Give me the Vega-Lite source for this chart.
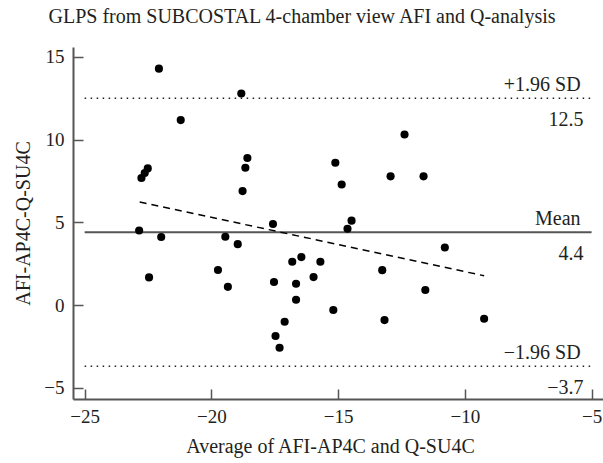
{
  "$schema": "https://vega.github.io/schema/vega-lite/v6.json",
  "autosize": {"type": "none"},
  "padding": {"left": 73, "top": 47, "right": 0, "bottom": 64},
  "width": 530,
  "height": 352,
  "title": {
    "text": "GLPS from SUBCOSTAL 4-chamber view AFI and Q-analysis",
    "font": "Liberation Serif",
    "fontSize": 20,
    "fontWeight": "normal",
    "color": "#231f20",
    "anchor": "middle",
    "dx": -36,
    "offset": 20
  },
  "config": {
    "view": {"stroke": null},
    "axis": {
      "grid": false,
      "domainColor": "#555555",
      "domainWidth": 2,
      "tickColor": "#555555",
      "tickWidth": 1.5,
      "tickSize": -10,
      "labelFont": "Liberation Serif",
      "labelFontSize": 19,
      "labelColor": "#231f20",
      "titleFont": "Liberation Serif",
      "titleFontSize": 20,
      "titleFontWeight": "normal",
      "titleColor": "#231f20"
    }
  },
  "datasets": {
    "points": [
      {"avg": -22.07, "diff": 14.29},
      {"avg": -18.82, "diff": 12.79},
      {"avg": -21.21, "diff": 11.18},
      {"avg": -18.58, "diff": 8.89},
      {"avg": -18.66, "diff": 8.30},
      {"avg": -18.77, "diff": 6.89},
      {"avg": -22.76, "diff": 7.68},
      {"avg": -22.63, "diff": 7.98},
      {"avg": -22.51, "diff": 8.26},
      {"avg": -17.57, "diff": 4.90},
      {"avg": -22.85, "diff": 4.51},
      {"avg": -21.98, "diff": 4.11},
      {"avg": -22.46, "diff": 1.67},
      {"avg": -19.45, "diff": 4.13},
      {"avg": -18.96, "diff": 3.68},
      {"avg": -19.74, "diff": 2.12},
      {"avg": -19.35, "diff": 1.10},
      {"avg": -17.53, "diff": 1.39},
      {"avg": -16.81, "diff": 2.62},
      {"avg": -16.45, "diff": 2.90},
      {"avg": -15.70, "diff": 2.62},
      {"avg": -16.66, "diff": 1.29},
      {"avg": -15.97, "diff": 1.69},
      {"avg": -16.66, "diff": 0.32},
      {"avg": -15.19, "diff": -0.30},
      {"avg": -17.11, "diff": -1.01},
      {"avg": -17.47, "diff": -1.87},
      {"avg": -17.31, "diff": -2.58},
      {"avg": -15.11, "diff": 8.60},
      {"avg": -14.86, "diff": 7.29},
      {"avg": -12.93, "diff": 7.78},
      {"avg": -11.63, "diff": 7.78},
      {"avg": -12.38, "diff": 10.31},
      {"avg": -14.47, "diff": 5.10},
      {"avg": -14.63, "diff": 4.61},
      {"avg": -10.79, "diff": 3.48},
      {"avg": -13.26, "diff": 2.11},
      {"avg": -13.17, "diff": -0.91},
      {"avg": -11.56, "diff": 0.91},
      {"avg": -9.24, "diff": -0.83}
    ],
    "refs": [
      {"x1": -25, "x2": -5, "y": 12.5, "style": "sd", "above": "+1.96 SD", "below": "12.5"},
      {"x1": -25, "x2": -5, "y": 4.4, "style": "mean", "above": "Mean", "below": "4.4"},
      {"x1": -25, "x2": -5, "y": -3.7, "style": "sd", "above": "−1.96 SD", "below": "−3.7"}
    ],
    "trend": [
      {"avg": -22.83, "diff": 6.23},
      {"avg": -9.24, "diff": 1.77}
    ]
  },
  "layer": [
    {
      "data": {"name": "refs"},
      "transform": [{"filter": "datum.style === 'sd'"}],
      "mark": {"type": "rule", "color": "#231f20", "strokeWidth": 1.5, "strokeDash": [1.5, 4.5]},
      "encoding": {
        "x": {"field": "x1", "type": "quantitative", "scale": {"domain": [-25.46, -4.55], "nice": false, "zero": false}},
        "x2": {"field": "x2"},
        "y": {"field": "y", "type": "quantitative", "scale": {"domain": [-5.68, 15.6], "nice": false, "zero": false}}
      }
    },
    {
      "data": {"name": "refs"},
      "transform": [{"filter": "datum.style === 'mean'"}],
      "mark": {"type": "rule", "color": "#555555", "strokeWidth": 2},
      "encoding": {
        "x": {"field": "x1", "type": "quantitative"},
        "x2": {"field": "x2"},
        "y": {"field": "y", "type": "quantitative"}
      }
    },
    {
      "data": {"name": "trend"},
      "mark": {"type": "line", "color": "#000000", "strokeWidth": 1.5, "strokeDash": [7, 5]},
      "encoding": {
        "x": {"field": "avg", "type": "quantitative"},
        "y": {"field": "diff", "type": "quantitative"}
      }
    },
    {
      "data": {"name": "points"},
      "mark": {"type": "circle", "color": "#000000", "opacity": 1, "size": 66},
      "encoding": {
        "x": {
          "field": "avg", "type": "quantitative",
          "title": "Average of AFI-AP4C and Q-SU4C",
          "axis": {"values": [-25, -20, -15, -10, -5], "labelPadding": 18, "titlePadding": 10, "titleX": 257}
        },
        "y": {
          "field": "diff", "type": "quantitative",
          "title": "AFI-AP4C-Q-SU4C",
          "axis": {"values": [-5, 0, 5, 10, 15], "labelPadding": 19, "titlePadding": 10}
        }
      }
    },
    {
      "data": {"name": "refs"},
      "mark": {"type": "text", "align": "right", "baseline": "alphabetic", "dx": -11, "dy": -7, "font": "Liberation Serif", "fontSize": 20, "color": "#231f20"},
      "encoding": {
        "x": {"field": "x2", "type": "quantitative"},
        "y": {"field": "y", "type": "quantitative"},
        "text": {"field": "above"}
      }
    },
    {
      "data": {"name": "refs"},
      "mark": {"type": "text", "align": "right", "baseline": "alphabetic", "dx": -8, "dy": 28, "font": "Liberation Serif", "fontSize": 20, "color": "#231f20"},
      "encoding": {
        "x": {"field": "x2", "type": "quantitative"},
        "y": {"field": "y", "type": "quantitative"},
        "text": {"field": "below"}
      }
    }
  ]
}
